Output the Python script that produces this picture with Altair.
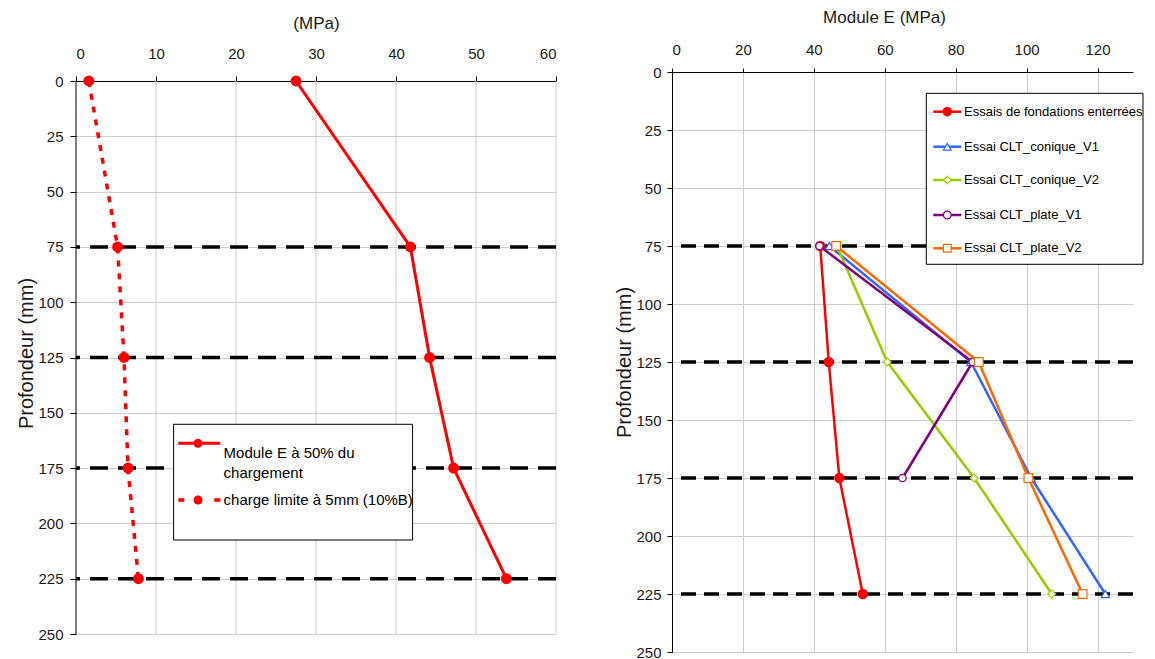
import altair as alt
import pandas as pd

FONT = "Liberation Sans"

# ---------------- data: left panel ----------------
depth_left = [0, 75, 125, 175, 225]
module_e_50 = [27.5, 41.8, 44.2, 47.2, 53.8]
charge_limite_5mm = [1.6, 5.2, 6.0, 6.5, 7.8]
left_labels = ["Module E à 50% du\nchargement", "charge limite à 5mm (10%B)"]
left_x_ticks = [0, 10, 20, 30, 40, 50, 60]
depth_ticks = [0, 25, 50, 75, 100, 125, 150, 175, 200, 225, 250]

# ---------------- data: right panel ----------------
depth_right = [75, 125, 175, 225]
essais_fondations = [41.8, 44.2, 47.2, 53.8]
clt_conique_v1 = [44.4, 84.3, 101.3, 122.2]
clt_conique_v2 = [46.5, 60.7, 85.2, 107.1]
depth_plate_v1 = [75, 125, 175]
clt_plate_v1 = [41.6, 84.8, 65.0]
clt_plate_v2 = [46.3, 86.5, 100.5, 115.8]
right_labels = ["Essais de fondations enterrées", "Essai CLT_conique_V1",
                "Essai CLT_conique_V2", "Essai CLT_plate_V1", "Essai CLT_plate_V2"]
right_colors = ["#FF0000", "#3366FF", "#99CC00", "#800080", "#FF6600"]
right_shapes = ["circle", "triangle-up", "diamond", "circle", "square"]
right_x_ticks = [0, 20, 40, 60, 80, 100, 120]

dash_depths = [75, 125, 175, 225]

RED = "#FF0000"
GRID = "#cfcfcf"
one_row = pd.DataFrame({"k": [0]})


def px_rect(x1, x2, y1, y2):
    return alt.Chart(one_row).mark_rect(fill="white", stroke="black", strokeWidth=1).encode(
        x=alt.value(x1), x2=alt.value(x2), y=alt.value(y1), y2=alt.value(y2))


def px_rule(x1, x2, y, color, width, dash=None):
    kw = dict(color=color, strokeWidth=width)
    if dash:
        kw["strokeDash"] = dash
    return alt.Chart(one_row).mark_rule(**kw).encode(
        x=alt.value(x1), x2=alt.value(x2), y=alt.value(y))


def px_point(x, y, shape, size, color, filled):
    if filled:
        m = alt.Chart(one_row).mark_point(shape=shape, size=size, filled=True, color=color, opacity=1)
    else:
        m = alt.Chart(one_row).mark_point(shape=shape, size=size, filled=True, fill="white",
                                          stroke=color, strokeWidth=1.2, opacity=1)
    return m.encode(x=alt.value(x), y=alt.value(y))


def px_text(x, y, label, size):
    return alt.Chart(one_row).mark_text(align="left", baseline="middle", font=FONT, fontSize=size,
                                        color="black", lineBreak="\n", lineHeight=20, text=label).encode(
        x=alt.value(x), y=alt.value(y))


# ---------------- left panel ----------------
# plot area starts a few px above the depth-0 line (so the panel lines up with the right one)
TOP_SHIFT = 9
LW, LH = 480, 562
LEFT_D0 = 250 * TOP_SHIFT / (LH - TOP_SHIFT)

lx_axis = alt.Axis(orient="top", values=left_x_ticks, title="(MPa)", tickSize=5, offset=-TOP_SHIFT,
                   labelPadding=15, titlePadding=14, labelFontSize=15, titleFontSize=17, grid=False)
ly_axis = alt.Axis(values=depth_ticks, title="Profondeur (mm)", tickSize=6, domain=False,
                   labelPadding=7, titlePadding=1, labelFontSize=15, titleFontSize=20, grid=True)
lx_scale = alt.Scale(domain=[0, 60], nice=False, zero=False)
ly_scale = alt.Scale(domain=[-LEFT_D0, 250], reverse=True, nice=False, zero=False)


def lx():
    return alt.X("E:Q", scale=lx_scale, axis=lx_axis)


def ly(field="depth"):
    return alt.Y(f"{field}:Q", scale=ly_scale, axis=ly_axis)


grid_left = alt.Chart(pd.DataFrame({"E": left_x_ticks[1:], "d0": 0, "d1": 250})).mark_rule(
    color=GRID, strokeWidth=1).encode(x=lx(), y=ly("d0"), y2="d1:Q")
yaxis_line_left = alt.Chart(pd.DataFrame({"E": [0], "d0": [0], "d1": [250]})).mark_rule(
    color="black", strokeWidth=1).encode(x=lx(), y=ly("d0"), y2="d1:Q")

dash_left = alt.Chart(pd.DataFrame({"depth": dash_depths})).mark_rule(
    color="black", strokeWidth=3.5, strokeDash=[18, 10]).encode(y=ly())

df_solid = pd.DataFrame({"E": module_e_50, "depth": depth_left})
df_dot = pd.DataFrame({"E": charge_limite_5mm, "depth": depth_left})

solid_line = alt.Chart(df_solid).mark_line(color=RED, strokeWidth=3).encode(
    x=lx(), y=ly(), order="depth:Q")
solid_pts = alt.Chart(df_solid).mark_point(shape="circle", size=120, filled=True, color=RED,
                                           opacity=1).encode(x=lx(), y=ly())
dot_line = alt.Chart(df_dot).mark_line(color=RED, strokeWidth=3.5, strokeDash=[6, 7]).encode(
    x=lx(), y=ly(), order="depth:Q")
dot_pts = alt.Chart(df_dot).mark_point(shape="circle", size=120, filled=True, color=RED,
                                       opacity=1).encode(x=lx(), y=ly())

oy = TOP_SHIFT
left_legend = [
    px_rect(97.6, 336.6, oy + 343.3, oy + 459),
    px_rule(102.3, 144.3, oy + 362.3, RED, 3),
    px_point(122, oy + 362.3, "circle", 80, RED, True),
    px_text(147.6, oy + 372.3, left_labels[0].split("\n"), 15),
    px_rule(102.3, 144.3, oy + 419, RED, 3.5, [6, 30]),
    px_point(122, oy + 419, "circle", 80, RED, True),
    px_text(147.6, oy + 419, left_labels[1], 15),
]

left = alt.layer(grid_left, yaxis_line_left, dash_left, dot_line, solid_line, dot_pts, solid_pts,
                 *left_legend).properties(width=LW, height=LH)

# ---------------- right panel ----------------
RW, RH = 461, 580
rx_axis = alt.Axis(orient="top", values=right_x_ticks, title="Module E (MPa)", tickSize=4,
                   labelPadding=11, titlePadding=16, labelFontSize=15, titleFontSize=17, grid=True,
                   titleX=212)
ry_axis = alt.Axis(values=depth_ticks, title="Profondeur (mm)", tickSize=5,
                   labelPadding=6, titlePadding=1, labelFontSize=15, titleFontSize=20, grid=True)
rx_scale = alt.Scale(domain=[0, 130], nice=False, zero=False)
ry_scale = alt.Scale(domain=[0, 250], reverse=True, nice=False, zero=False)


def rx():
    return alt.X("E:Q", scale=rx_scale, axis=rx_axis)


def ry():
    return alt.Y("depth:Q", scale=ry_scale, axis=ry_axis)


dash_right = alt.Chart(pd.DataFrame({"depth": dash_depths})).mark_rule(
    color="black", strokeWidth=3.5, strokeDash=[15, 8]).encode(y=ry())

right_values = [essais_fondations, clt_conique_v1, clt_conique_v2, clt_plate_v1, clt_plate_v2]
right_depths = [depth_right, depth_right, depth_right, depth_plate_v1, depth_right]
right_sizes = [110, 70, 60, 55, 75]

right_layers = [dash_right]
for i, (vals, deps) in enumerate(zip(right_values, right_depths)):
    df = pd.DataFrame({"E": vals, "depth": deps})
    col = right_colors[i]
    right_layers.append(alt.Chart(df).mark_line(color=col, strokeWidth=2.5).encode(
        x=rx(), y=ry(), order="depth:Q"))
    if i == 0:
        pts = alt.Chart(df).mark_point(shape="circle", size=right_sizes[i], filled=True,
                                       color=col, opacity=1)
    else:
        pts = alt.Chart(df).mark_point(shape=right_shapes[i], size=right_sizes[i], filled=True,
                                       fill="white", stroke=col, strokeWidth=1.2, opacity=1)
    right_layers.append(pts.encode(x=rx(), y=ry()))

entry_y = [39.7, 74.7, 108, 143, 176.3]
right_legend = [px_rect(254.3, 471, 21.3, 192.3)]
for i, lab in enumerate(right_labels):
    right_legend.append(px_rule(261.3, 289.3, entry_y[i], right_colors[i], 2.5))
    right_legend.append(px_point(275.3, entry_y[i], right_shapes[i],
                                 90 if i == 0 else 60, right_colors[i], i == 0))
    right_legend.append(px_text(292, entry_y[i], lab, 13))

right = alt.layer(*right_layers, *right_legend).properties(width=RW, height=RH)

chart = alt.hconcat(left, right, spacing=56).properties(
    padding={"left": 8, "top": 0, "right": 0, "bottom": 0}
).configure_view(stroke=None).configure_axis(
    labelFont=FONT, titleFont=FONT, labelColor="#1a1a1a", titleColor="#1a1a1a",
    titleFontWeight="normal", domainColor="black", tickColor="black",
    gridColor=GRID, gridWidth=1, domainWidth=1
)

chart.save("out.html", embed_options={"renderer": "svg", "actions": False})
